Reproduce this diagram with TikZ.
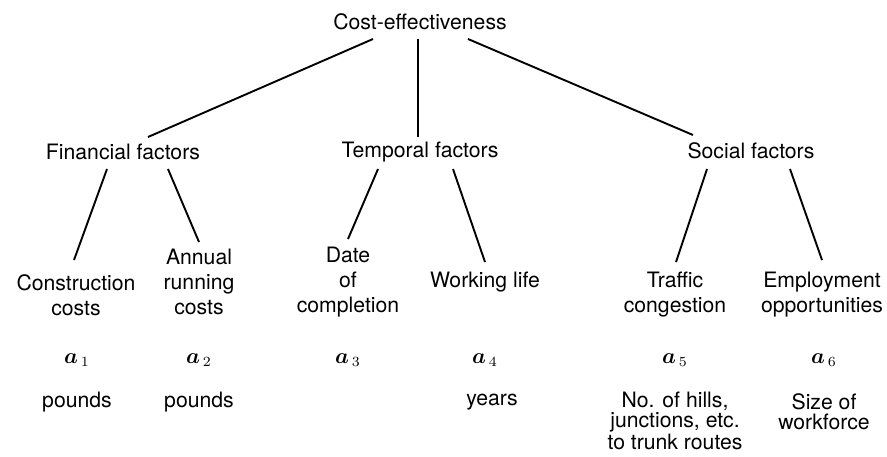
\documentclass[tikz,border=0pt]{standalone}
\usepackage{amsmath}
\usepackage{fontspec}
\setmainfont{TeX Gyre Heros}
\usetikzlibrary{positioning, calc}

\begin{document}
\begin{tikzpicture}[
  x=0.5pt, y=-0.5pt,
  % ---- Style definitions ----
  factor/.style={
    inner sep=0pt, align=center,
    font=\fontsize{10.6}{12.5}\selectfont
  },
  leaf/.style={
    factor
  },
  attr/.style={
    inner sep=0pt, font=\fontsize{10.6}{12.5}\selectfont
  },
  meas/.style={
    inner sep=0pt, align=center,
    font=\fontsize{10.6}{10}\selectfont
  },
  conn/.style={
    line width=0.95pt, color=black
  },
]
\useasboundingbox (0,0) rectangle (887,456);

% ---- Top of the tree ----
\node[factor] (ce) at (420,22) {Cost-effectiveness};

% ---- Groups of factors ----
\node[factor] (fin) at (123,152) {Financial factors};
\node[factor] (tem) at (420,152) {Temporal factors};
\node[factor] (soc) at (751,151) {Social factors};

% ---- Single factors ----
\node[leaf] (cc) at (76,295)  {Construction\\costs};
\node[leaf] (rc) at (199,282) {Annual\\running\\costs};
\node[leaf] (dc) at (348,282) {Date\\of\\completion};
\node[leaf] (wl) at (485,282) {Working life};
\node[leaf] (tc) at (675,295) {Traffic\\congestion};
\node[leaf] (eo) at (822,295) {Employment\\opportunities};

% ---- Attributes ----
\node[attr] (a1) at (77,360)  {$\boldsymbol{a}_{\,1}$};
\node[attr] (a2) at (199,360) {$\boldsymbol{a}_{\,2}$};
\node[attr] (a3) at (348,360) {$\boldsymbol{a}_{\,3}$};
\node[attr] (a4) at (485,360) {$\boldsymbol{a}_{\,4}$};
\node[attr] (a5) at (675,360) {$\boldsymbol{a}_{\,5}$};
\node[attr] (a6) at (824,360) {$\boldsymbol{a}_{\,6}$};

% ---- Measures ----
\node[meas] (m1) at (77,402)  {pounds};
\node[meas] (m2) at (199,402) {pounds};
\node[meas] (m4) at (492,402) {years};
\node[meas] (m5) at (675,421) {No. of hills,\\junctions, etc.\\to trunk routes};
\node[meas] (m6) at (824,412) {Size of\\workforce};

% ---- Connectors ----
\draw[conn] ($(ce)+(-47,17)$) -- ($(fin)+(25,-15)$);
\draw[conn] ($(ce)+(-2,17)$)  -- ($(tem)+(-2,-15)$);
\draw[conn] ($(ce)+(48,17)$)  -- ($(soc)+(-58,-16)$);

\draw[conn] ($(fin)+(-16,17)$) -- ($(cc)+(-2,-35)$);
\draw[conn] ($(fin)+(45,17)$)  -- ($(rc)+(0,-40)$);
\draw[conn] ($(tem)+(-42,17)$) -- ($(dc)+(0,-43)$);
\draw[conn] ($(tem)+(33,17)$)  -- ($(wl)+(0,-20)$);
\draw[conn] ($(soc)+(-44,18)$) -- ($(tc)+(1,-33)$);
\draw[conn] ($(soc)+(39,18)$)  -- ($(eo)+(0,-35)$);

\end{tikzpicture}
\end{document}
